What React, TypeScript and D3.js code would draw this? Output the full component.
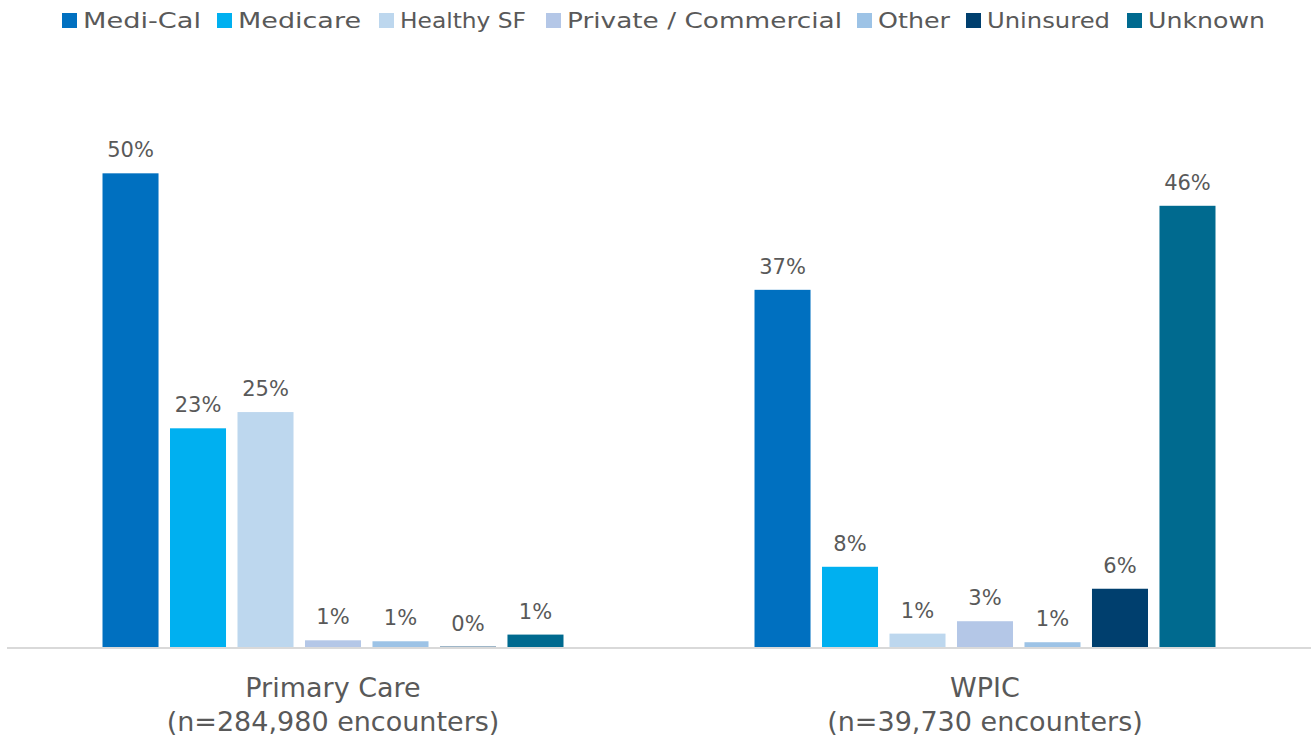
import React, { useEffect, useRef } from 'react';
import * as d3 from 'd3';

const categories = ['Primary Care', 'WPIC'];
const subtitles = ['(n=284,980 encounters)', '(n=39,730 encounters)'];
const seriesNames = ['Medi-Cal', 'Medicare', 'Healthy SF', 'Private / Commercial', 'Other', 'Uninsured', 'Unknown'];
const seriesColors = ['#0070C0', '#00B0F0', '#BDD7EE', '#B4C7E7', '#9DC3E6', '#003F6E', '#006A8F'];
const primaryCare = [49.6, 22.9, 24.6, 0.7, 0.6, 0.04, 1.3];
const wpic = [37.4, 8.4, 1.4, 2.7, 0.5, 6.1, 46.2];

const FONT = "'DejaVu Sans', sans-serif";
const TEXT = '#595959';

const App = () => {
  const ref = useRef<SVGSVGElement>(null);

  useEffect(() => {
    document.body.style.margin = '0';
    const baseline = 647;
    const svg = d3.select(ref.current);
    svg.selectAll('*').remove();

    const x0 = d3.scaleBand().domain(categories).range([7, 1311]);
    const x1 = d3.scaleBand().domain(seriesNames).range([0, x0.bandwidth()])
      .paddingInner(0.17).paddingOuter(1.415);
    const y = d3.scaleLinear().domain([0, 55]).range([baseline, baseline - 55 * 9.55]);
    const color = d3.scaleOrdinal<string, string>().domain(seriesNames).range(seriesColors);

    const rows = [primaryCare, wpic];

    const groups = svg.selectAll('g.cat')
      .data(categories)
      .enter()
      .append('g')
      .attr('class', 'cat')
      .attr('transform', d => `translate(${x0(d)},0)`);

    groups.each(function (cat, ci) {
      const g = d3.select(this);
      const data = seriesNames.map((s, i) => ({ s, v: rows[ci][i] }));
      g.selectAll('rect')
        .data(data)
        .enter()
        .append('rect')
        .attr('x', d => x1(d.s)!)
        .attr('y', d => y(d.v))
        .attr('width', x1.bandwidth())
        .attr('height', d => baseline - y(d.v))
        .attr('fill', d => color(d.s));

      g.selectAll('text.val')
        .data(data)
        .enter()
        .append('text')
        .attr('class', 'val')
        .attr('x', d => x1(d.s)! + x1.bandwidth() / 2)
        .attr('y', d => y(d.v) - 16)
        .attr('text-anchor', 'middle')
        .style('font-family', FONT)
        .style('font-size', '21px')
        .style('fill', TEXT)
        .text(d => `${Math.round(d.v)}%`);
    });

    // axis line
    svg.append('line')
      .attr('x1', 7).attr('x2', 1311)
      .attr('y1', baseline + 1).attr('y2', baseline + 1)
      .attr('stroke', '#D9D9D9').attr('stroke-width', 2);

    // category labels
    categories.forEach((c, i) => {
      const cx = x0(c)! + x0.bandwidth() / 2;
      svg.append('text')
        .attr('x', cx).attr('y', 697)
        .attr('text-anchor', 'middle')
        .style('font-family', FONT).style('font-size', '27px').style('fill', TEXT)
        .text(c);
      svg.append('text')
        .attr('x', cx).attr('y', 731)
        .attr('text-anchor', 'middle')
        .style('font-family', FONT).style('font-size', '27px').style('fill', TEXT)
        .text(subtitles[i]);
    });

    // legend
    const legendX = [62, 217, 379, 546, 857, 966, 1127];
    const legendW = [118, 123, 126, 275, 72, 123, 117];
    seriesNames.forEach((s, i) => {
      svg.append('rect')
        .attr('x', legendX[i]).attr('y', 13)
        .attr('width', 15).attr('height', 15)
        .attr('fill', color(s));
      svg.append('text')
        .attr('x', legendX[i] + 21).attr('y', 28)
        .attr('textLength', legendW[i])
        .attr('lengthAdjust', 'spacingAndGlyphs')
        .style('font-family', FONT).style('font-size', '21px').style('fill', TEXT)
        .text(s);
    });
  }, []);

  return <svg ref={ref} width={1314} height={740} style={{ display: 'block', background: '#fff' }} />;
};

export default App;
